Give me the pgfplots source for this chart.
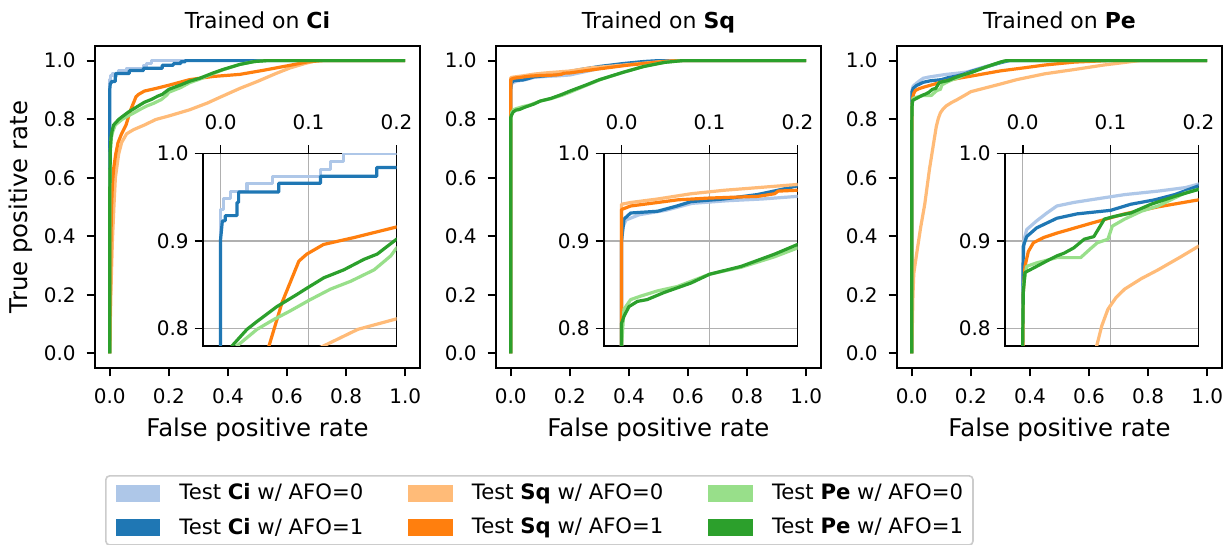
\documentclass[border=0pt]{standalone}
\usepackage{fontspec}
\setmainfont{DejaVu Sans}
\usepackage{pgfplots}
\usepackage{pgfplotstable}
\pgfplotsset{compat=1.18}

\definecolor{ciA}{HTML}{AEC7E8}
\definecolor{ciB}{HTML}{1F77B4}
\definecolor{sqA}{HTML}{FFBB78}
\definecolor{sqB}{HTML}{FF7F0E}
\definecolor{peA}{HTML}{98DF8A}
\definecolor{peB}{HTML}{2CA02C}
\definecolor{gridgray}{HTML}{B0B0B0}
\definecolor{legendframe}{HTML}{CCCCCC}

% ---------- ROC curves, trained on Ci ----------
\pgfplotstableread{
x y
0 0
0 0.936
0.0034 0.936
0.0034 0.949
0.011 0.949
0.011 0.957
0.030 0.957
0.030 0.966
0.0586 0.966
0.0586 0.974
0.1137 0.974
0.1137 0.982
0.125 0.982
0.125 0.991
0.140 0.991
0.140 1.0
1 1
}\aCiA
\pgfplotstableread{
x y
0 0
0 0.902
0.002 0.923
0.0053 0.923
0.0053 0.929
0.0186 0.929
0.0186 0.944
0.0205 0.944
0.0205 0.956
0.0662 0.956
0.0662 0.966
0.1137 0.966
0.1137 0.974
0.1776 0.974
0.1776 0.984
0.215 0.984
0.215 0.990
0.240 0.990
0.240 0.996
0.255 0.996
0.255 1.0
1 1
}\aCiB
\pgfplotstableread{
x y
0 0
0.002 0.12
0.005 0.25
0.009 0.387
0.014 0.50
0.019 0.60
0.03 0.68
0.04 0.72
0.057 0.75
0.08 0.764
0.117 0.78
0.156 0.799
0.2 0.811
0.27 0.832
0.33 0.855
0.38 0.878
0.44 0.905
0.5 0.929
0.56 0.955
0.61 0.975
0.66 0.99
0.70 1.0
1 1
}\aSqA
\pgfplotstableread{
x y
0 0
0.002 0.2
0.004 0.4
0.006 0.5
0.009 0.58
0.013 0.63
0.02 0.68
0.028 0.72
0.04 0.75
0.055 0.78
0.07 0.83
0.089 0.877
0.098 0.885
0.117 0.896
0.152 0.904
0.2 0.916
0.27 0.935
0.35 0.946
0.44 0.953
0.52 0.967
0.61 0.984
0.67 0.996
0.72 1.0
1 1
}\aSqB
\pgfplotstableread{
x y
0 0
0 0.55
0.002 0.69
0.005 0.735
0.01 0.757
0.0186 0.78
0.0414 0.799
0.060 0.81
0.079 0.82
0.102 0.833
0.125 0.845
0.148 0.854
0.1745 0.867
0.1935 0.883
0.2 0.892
0.24 0.908
0.271 0.925
0.305 0.937
0.35 0.956
0.384 0.969
0.44 0.987
0.49 0.997
0.53 1.0
1 1
}\aPeA
\pgfplotstableread{
x y
0 0
0 0.55
0.002 0.70
0.005 0.745
0.009 0.765
0.0129 0.78
0.030 0.799
0.0414 0.808
0.064 0.825
0.087 0.839
0.098 0.846
0.1175 0.858
0.140 0.867
0.163 0.879
0.178 0.885
0.2 0.902
0.24 0.917
0.271 0.93
0.305 0.94
0.35 0.958
0.384 0.97
0.44 0.987
0.49 0.997
0.53 1.0
1 1
}\aPeB

% ---------- ROC curves, trained on Sq ----------
\pgfplotstableread{
x y
0 0
0 0.90
0.001 0.915
0.005 0.924
0.02 0.93
0.05 0.935
0.08 0.943
0.12 0.946
0.16 0.948
0.2 0.951
0.25 0.962
0.3 0.973
0.38 0.986
0.45 0.995
0.52 1.0
1 1
}\bCiA
\pgfplotstableread{
x y
0 0
0 0.90
0.0027 0.925
0.0103 0.932
0.041 0.934
0.063 0.94
0.079 0.945
0.116 0.948
0.154 0.953
0.173 0.957
0.2 0.963
0.25 0.972
0.3 0.98
0.38 0.99
0.45 0.997
0.5 1.0
1 1
}\bCiB
\pgfplotstableread{
x y
0 0
0 0.942
0.0103 0.944
0.041 0.948
0.079 0.954
0.117 0.958
0.155 0.961
0.2 0.9646
0.268 0.975
0.35 0.982
0.437 0.99
0.5 0.996
0.56 1.0
1 1
}\bSqA
\pgfplotstableread{
x y
0 0
0 0.936
0.0103 0.94
0.041 0.944
0.0635 0.947
0.098 0.949
0.155 0.951
0.174 0.954
0.178 0.957
0.2 0.958
0.25 0.965
0.3 0.972
0.4 0.985
0.5 0.995
0.56 1.0
1 1
}\bSqB
\pgfplotstableread{
x y
0 0
0 0.78
0.0027 0.822
0.0103 0.833
0.0217 0.837
0.041 0.843
0.0635 0.848
0.1 0.862
0.136 0.870
0.174 0.882
0.2 0.892
0.25 0.913
0.3 0.934
0.38 0.96
0.45 0.98
0.52 0.994
0.58 1.0
1 1
}\bPeA
\pgfplotstableread{
x y
0 0
0 0.806
0.0027 0.814
0.0084 0.825
0.018 0.831
0.029 0.833
0.048 0.841
0.079 0.852
0.1 0.862
0.136 0.871
0.174 0.885
0.2 0.896
0.25 0.915
0.3 0.935
0.38 0.96
0.45 0.98
0.52 0.994
0.58 1.0
1 1
}\bPeB

% ---------- ROC curves, trained on Pe ----------
\pgfplotstableread{
x y
0 0
0 0.84
0.001 0.88
0.0019 0.902
0.0046 0.913
0.016 0.923
0.0276 0.932
0.039 0.94
0.058 0.944
0.077 0.947
0.116 0.953
0.154 0.957
0.185 0.961
0.2 0.965
0.25 0.98
0.3 0.993
0.32 1.0
1 1
}\cCiA
\pgfplotstableread{
x y
0 0
0 0.8
0.0005 0.87
0.0008 0.894
0.0046 0.905
0.016 0.915
0.039 0.926
0.062 0.931
0.1 0.935
0.123 0.942
0.15 0.947
0.173 0.953
0.2 0.963
0.25 0.978
0.3 0.993
0.33 1.0
1 1
}\cCiB
\pgfplotstableread{
x y
0 0
0.002 0.1
0.004 0.2
0.0068 0.273
0.015 0.33
0.03 0.43
0.044 0.51
0.06 0.63
0.075 0.725
0.083 0.775
0.09 0.803
0.097 0.822
0.106 0.835
0.116 0.845
0.135 0.857
0.154 0.867
0.18 0.882
0.2 0.894
0.25 0.907
0.3 0.92
0.355 0.935
0.45 0.955
0.546 0.969
0.65 0.985
0.77 1.0
1 1
}\cSqA
\pgfplotstableread{
x y
0 0
0 0.6
0.0005 0.8
0.0008 0.841
0.0027 0.871
0.0065 0.888
0.0123 0.898
0.024 0.904
0.039 0.909
0.077 0.92
0.116 0.931
0.154 0.939
0.2 0.947
0.3 0.965
0.377 0.975
0.45 0.985
0.55 0.995
0.66 1.0
1 1
}\cSqB
\pgfplotstableread{
x y
0 0
0 0.78
0.0008 0.848
0.0046 0.871
0.016 0.875
0.039 0.881
0.066 0.881
0.077 0.891
0.085 0.898
0.097 0.902
0.102 0.917
0.116 0.925
0.135 0.934
0.154 0.94
0.185 0.955
0.2 0.959
0.25 0.978
0.3 0.995
0.32 1.0
1 1
}\cPeA
\pgfplotstableread{
x y
0 0
0 0.78
0.0008 0.841
0.0027 0.864
0.0084 0.867
0.016 0.871
0.031 0.879
0.039 0.883
0.047 0.886
0.058 0.892
0.07 0.902
0.081 0.905
0.093 0.925
0.104 0.928
0.123 0.932
0.146 0.942
0.173 0.951
0.2 0.959
0.25 0.978
0.3 0.995
0.32 1.0
1 1
}\cPeB

\pgfplotsset{
  /pgf/number format/assume math mode=true,
  every axis title shift=0pt,
  roc/.style={line width=1.6pt, line join=round, mark=none, forget plot},
  rocbase/.style={
    scale only axis,
    tick align=outside,
    major tick length=4.2pt,
    axis line style={line width=0.9pt},
    every tick/.style={black, line width=0.9pt},
    tick label style={font=\fontsize{10}{12}\selectfont, inner sep=0pt},
    xticklabel={\pgfmathprintnumber[fixed,fixed zerofill,precision=1]{\tick}},
    yticklabel={\pgfmathprintnumber[fixed,fixed zerofill,precision=1]{\tick}},
  },
  rocmain/.style={
    rocbase,
    width=162.5pt, height=161pt,
    xmin=-0.05, xmax=1.05, ymin=-0.05, ymax=1.05,
    xtick={0,0.2,0.4,0.6,0.8,1.0},
    ytick={0,0.2,0.4,0.6,0.8,1.0},
    xtick pos=left, ytick pos=left,
    xticklabel style={anchor=north},
    yticklabel style={anchor=east},
    xticklabel shift=5.8pt,
    yticklabel shift=5.3pt,
    title style={at={(axis description cs:0.5,1.0559)}, anchor=base,
      font=\fontsize{11}{13}\selectfont},
    xlabel style={at={(axis description cs:0.5,-0.2133)}, anchor=base,
      font=\fontsize{12.2}{15}\selectfont},
    ylabel style={at={(axis description cs:-0.2092,0.5)}, anchor=base,
      font=\fontsize{12.2}{15}\selectfont},
    xlabel={False positive rate},
  },
  rocinset/.style={
    rocbase,
    width=96.75pt, height=96.25pt,
    xmin=-0.02, xmax=0.2, ymin=0.78, ymax=1.0,
    xtick={0,0.1,0.2},
    ytick={0.8,0.9,1.0},
    xtick pos=right, xticklabel pos=right, ytick pos=left,
    xticklabel style={anchor=south},
    yticklabel style={anchor=east},
    xticklabel shift=7.3pt,
    yticklabel shift=2.8pt,
    grid=major,
    grid style={gridgray, line width=0.75pt},
    axis background/.style={fill=white},
  },
}

\newcommand{\rocset}[6]{%
  \addplot[roc, ciA] table {#1};
  \addplot[roc, ciB] table {#2};
  \addplot[roc, sqA] table {#3};
  \addplot[roc, sqB] table {#4};
  \addplot[roc, peA] table {#5};
  \addplot[roc, peB] table {#6};
}

\begin{document}
\begin{tikzpicture}
\useasboundingbox (0,0) rectangle (613pt,-272.5pt);

% ----- Trained on Ci -----
\begin{axis}[rocmain, at={(47.5pt,-23pt)}, anchor=north west,
  title={Trained on \textbf{Ci}},
  ylabel={True positive rate},
  legend columns=3,
  legend cell align=left,
  legend image code/.code={\fill[#1, sharp corners] (0pt,-3.75pt) rectangle (21.5pt,3.75pt);},
  legend style={
    at={(axis description cs:0.0308,-0.3323)}, anchor=north west,
    draw=legendframe, line width=0.8pt, rounded corners=2pt,
    font=\fontsize{10.6}{12}\selectfont,
    inner xsep=5pt, inner ysep=4pt,
    nodes={inner sep=0pt},
    row sep=7.5pt,
    /tikz/every odd column/.append style={column sep=9.5pt},
    /tikz/every even column/.append style={column sep=22.5pt},
  },
]
\rocset{\aCiA}{\aCiB}{\aSqA}{\aSqB}{\aPeA}{\aPeB}
\addlegendimage{ciA}\addlegendentry{Test \textbf{Ci} w/ AFO=0}
\addlegendimage{sqA}\addlegendentry{Test \textbf{Sq} w/ AFO=0}
\addlegendimage{peA}\addlegendentry{Test \textbf{Pe} w/ AFO=0}
\addlegendimage{ciB}\addlegendentry{Test \textbf{Ci} w/ AFO=1}
\addlegendimage{sqB}\addlegendentry{Test \textbf{Sq} w/ AFO=1}
\addlegendimage{peB}\addlegendentry{Test \textbf{Pe} w/ AFO=1}
\end{axis}
\begin{axis}[rocinset, at={(101.5pt,-76.75pt)}, anchor=north west]
\rocset{\aCiA}{\aCiB}{\aSqA}{\aSqB}{\aPeA}{\aPeB}
\end{axis}

% ----- Trained on Sq -----
\begin{axis}[rocmain, at={(248pt,-23pt)}, anchor=north west,
  title={Trained on \textbf{Sq}}]
\rocset{\bCiA}{\bCiB}{\bSqA}{\bSqB}{\bPeA}{\bPeB}
\end{axis}
\begin{axis}[rocinset, at={(302pt,-76.75pt)}, anchor=north west]
\rocset{\bCiA}{\bCiB}{\bSqA}{\bSqB}{\bPeA}{\bPeB}
\end{axis}

% ----- Trained on Pe -----
\begin{axis}[rocmain, at={(448.5pt,-23pt)}, anchor=north west,
  title={Trained on \textbf{Pe}}]
\rocset{\cCiA}{\cCiB}{\cSqA}{\cSqB}{\cPeA}{\cPeB}
\end{axis}
\begin{axis}[rocinset, at={(502.5pt,-76.75pt)}, anchor=north west]
\rocset{\cCiA}{\cCiB}{\cSqA}{\cSqB}{\cPeA}{\cPeB}
\end{axis}
\end{tikzpicture}
\end{document}
